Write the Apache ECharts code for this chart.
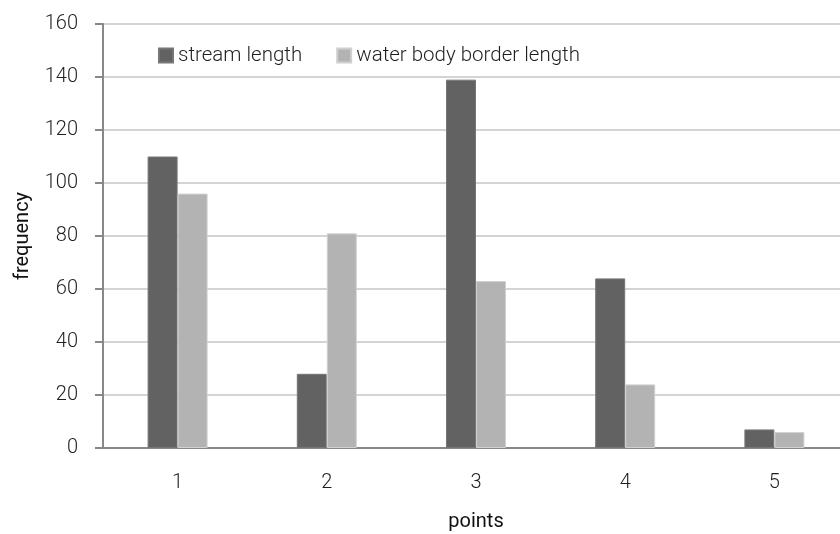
<!DOCTYPE html>
<html>
<head>
<meta charset="utf-8">
<script src="https://cdn.jsdelivr.net/npm/echarts@6/dist/echarts.min.js"></script>
<style>
html,body{margin:0;padding:0;background:#fff;}
#chart{width:840px;height:534px;}
</style>
</head>
<body>
<div id="chart"></div>
<script>
const categories = ['1', '2', '3', '4', '5'];
const streamLength = [110, 28, 139, 64, 7];
const waterBodyBorderLength = [96, 81, 63, 24, 6];
const seriesNames = ['stream length', 'water body border length'];
const yTicks = { min: 0, max: 160, interval: 20 };

const FONT = 'Roboto';
const chart = echarts.init(document.getElementById('chart'), null, { renderer: 'canvas' });
chart.setOption({
  animation: false,
  backgroundColor: '#ffffff',
  grid: { left: 103, top: 24, width: 746, height: 424, containLabel: false, outerBoundsMode: 'none' },
  legend: {
    left: 158, top: 45, padding: 0,
    icon: 'rect', itemWidth: 14, itemHeight: 14, itemGap: 34,
    textStyle: { fontFamily: FONT, fontWeight: 300, fontSize: 20.5, color: '#1f1f1f', lineHeight: 20 },
    data: seriesNames
  },
  xAxis: {
    type: 'category',
    data: categories,
    boundaryGap: true,
    name: 'points',
    nameLocation: 'middle',
    nameGap: 64,
    nameTextStyle: { fontFamily: FONT, fontWeight: 400, fontSize: 20, color: '#111111' },
    axisLine: { show: true, lineStyle: { color: '#888888', width: 2 } },
    axisTick: { show: false },
    axisLabel: { fontFamily: FONT, fontWeight: 300, fontSize: 20, color: '#1f1f1f', margin: 25 },
    splitLine: { show: false }
  },
  yAxis: {
    type: 'value',
    min: yTicks.min, max: yTicks.max, interval: yTicks.interval,
    name: 'frequency',
    nameLocation: 'middle',
    nameRotate: 90,
    nameGap: 70,
    nameTextStyle: { fontFamily: FONT, fontWeight: 400, fontSize: 20, color: '#111111' },
    axisLine: { show: true, lineStyle: { color: '#888888', width: 2 } },
    axisTick: { show: true, length: 8, lineStyle: { color: '#888888', width: 2 } },
    axisLabel: { fontFamily: FONT, fontWeight: 300, fontSize: 20, color: '#1f1f1f', margin: 25 },
    splitLine: { show: true, lineStyle: { color: '#d4d4d4', width: 2 } }
  },
  series: [
    {
      name: seriesNames[0], type: 'bar', data: streamLength,
      barWidth: 30, barGap: '0%',
      itemStyle: { color: '#626262', borderColor: '#767676', borderWidth: 1 }
    },
    {
      name: seriesNames[1], type: 'bar', data: waterBodyBorderLength,
      barWidth: 30, barGap: '0%',
      itemStyle: { color: '#b3b3b3', borderColor: '#d0d0d0', borderWidth: 1 }
    }
  ]
});
</script>
</body>
</html>
